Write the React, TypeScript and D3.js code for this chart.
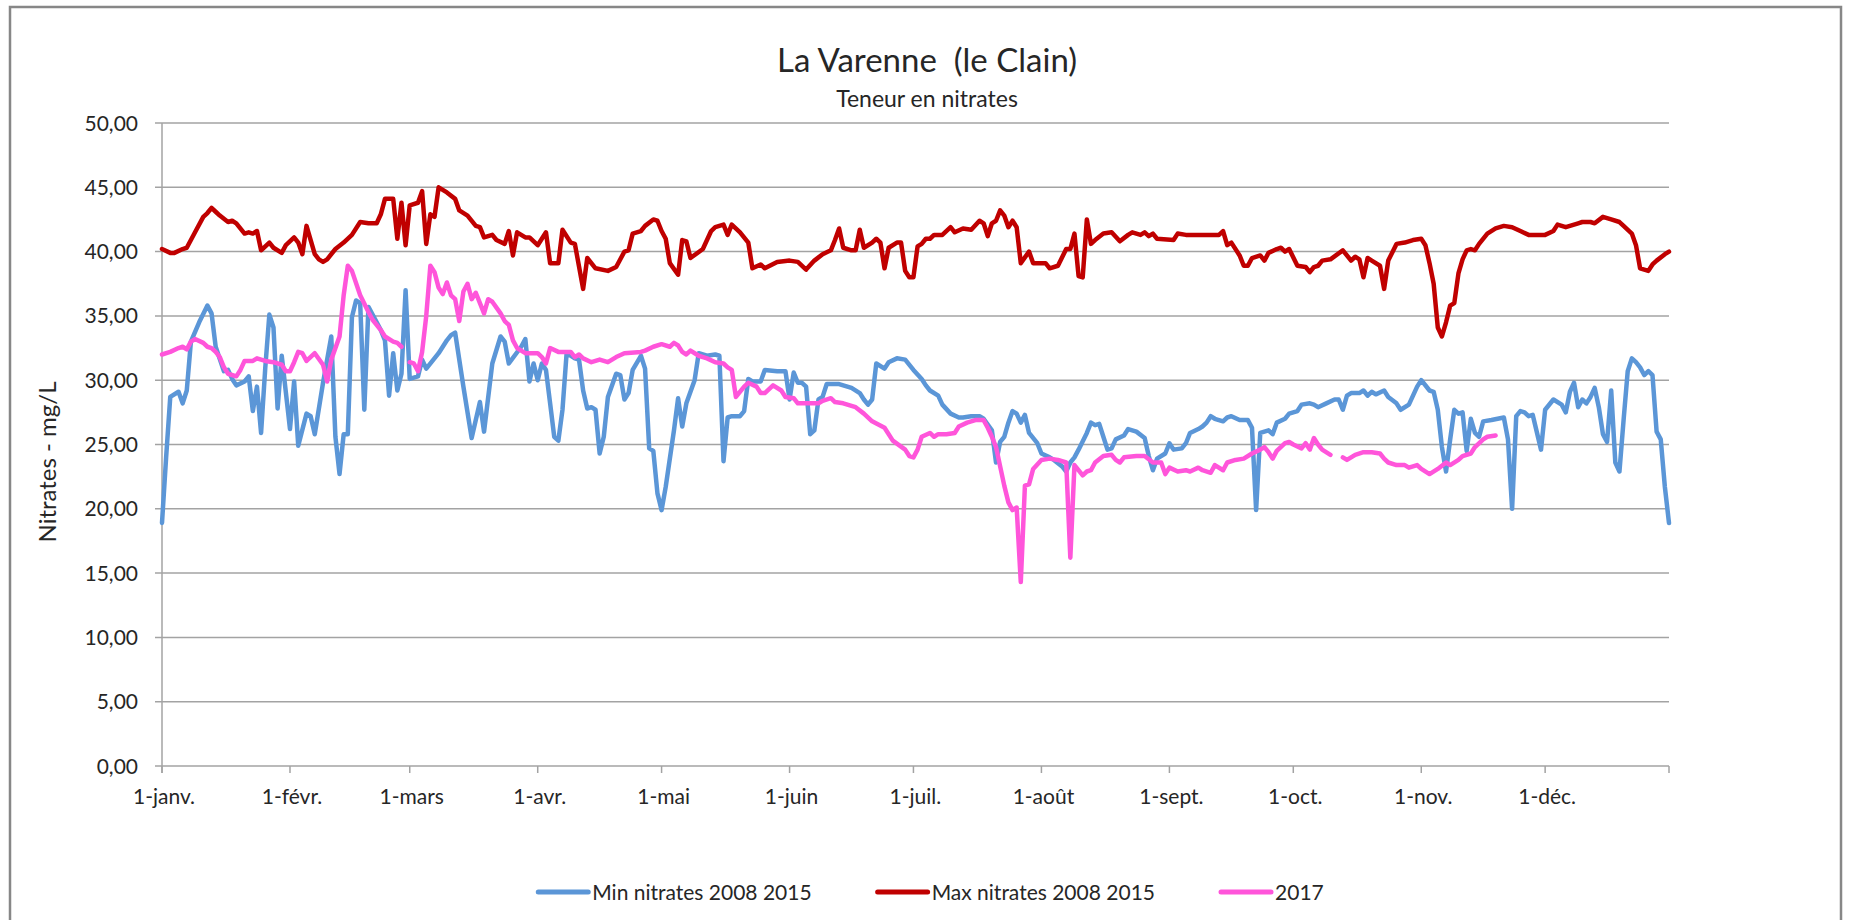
import { useRef, useEffect } from "react";
import * as d3 from "d3";

// day of year (leap-year axis, 0 = 1 janv.), value in mg/L
const minNitrates: [number, number][] = [
  [0, 18.9], [1, 24.0], [2, 28.7], [4, 29.1], [5, 28.2], [6, 29.2], [7, 33.0], [9, 34.5], [11, 35.8], [12, 35.2],
  [13, 32.6], [15, 30.7], [16, 30.8], [17, 30.1], [18, 29.6], [20, 29.9], [21, 30.3], [22, 27.6], [23, 29.5], [24, 25.9],
  [25, 30.9], [26, 35.1], [27, 34.1], [28, 27.8], [29, 31.9], [31, 26.2], [32, 29.9], [33, 24.9], [35, 27.4], [36, 27.2],
  [37, 25.8], [39, 29.8], [41, 33.4], [42, 25.6], [43, 22.7], [44, 25.8], [45, 25.8], [46, 34.9], [47, 36.2], [48, 36.0],
  [49, 27.7], [50, 35.7], [51, 35.1], [53, 33.9], [54, 33.1], [55, 28.8], [56, 32.1], [57, 29.2], [58, 30.5], [59, 37.0],
  [60, 30.1], [62, 30.3], [63, 31.6], [64, 30.9], [67, 32.1], [69, 33.1], [70, 33.5], [71, 33.7], [73, 29.5], [75, 25.5],
  [77, 28.3], [78, 26.0], [80, 31.3], [82, 33.4], [83, 33.0], [84, 31.3], [87, 32.6], [88, 33.2], [89, 29.9], [90, 31.3],
  [91, 30.0], [92, 31.3], [93, 30.8], [94, 28.2], [95, 25.6], [96, 25.3], [97, 27.7], [98, 32.1], [100, 31.7], [101, 31.6],
  [102, 29.2], [103, 27.8], [104, 27.9], [105, 27.7], [106, 24.3], [107, 25.6], [108, 28.7], [110, 30.5], [111, 30.4], [112, 28.5],
  [113, 29.0], [114, 30.8], [116, 31.9], [117, 30.9], [118, 24.7], [119, 24.5], [120, 21.2], [121, 19.9], [122, 21.7], [124, 26.1],
  [125, 28.6], [126, 26.4], [127, 28.2], [129, 30.0], [130, 32.1], [132, 31.9], [134, 32.0], [135, 31.9], [136, 23.7], [137, 27.1],
  [138, 27.2], [140, 27.2], [141, 27.6], [142, 30.1], [143, 29.9], [145, 29.9], [146, 30.8], [149, 30.7], [151, 30.7], [152, 28.5],
  [153, 30.6], [154, 29.8], [155, 29.8], [156, 29.5], [157, 25.8], [158, 26.1], [159, 28.5], [160, 28.7], [161, 29.7], [164, 29.7],
  [167, 29.4], [169, 29.0], [170, 28.5], [171, 28.1], [172, 28.5], [173, 31.3], [175, 30.9], [176, 31.4], [178, 31.7], [180, 31.6],
  [182, 30.8], [184, 30.1], [185, 29.6], [186, 29.2], [188, 28.8], [189, 28.1], [191, 27.4], [193, 27.1], [194, 27.1], [196, 27.2],
  [198, 27.2], [199, 27.0], [201, 26.1], [202, 23.6], [203, 25.2], [204, 25.6], [205, 26.7], [206, 27.6], [207, 27.4], [208, 26.7],
  [209, 27.3], [210, 25.9], [212, 25.1], [213, 24.3], [215, 24.0], [216, 23.8], [218, 23.3], [219, 22.9], [220, 23.6], [221, 24.0],
  [222, 24.6], [224, 25.9], [225, 26.7], [226, 26.5], [227, 26.6], [228, 25.6], [229, 24.6], [230, 24.7], [231, 25.4], [233, 25.7],
  [234, 26.2], [236, 26.0], [238, 25.5], [239, 24.1], [240, 23.0], [241, 23.9], [243, 24.3], [244, 25.1], [245, 24.6], [247, 24.7],
  [248, 25.1], [249, 25.9], [251, 26.2], [252, 26.4], [253, 26.7], [254, 27.2], [255, 27.0], [257, 26.8], [258, 27.1], [259, 27.2],
  [261, 26.9], [262, 26.9], [263, 26.9], [264, 26.3], [265, 19.9], [266, 25.9], [268, 26.1], [269, 25.8], [270, 26.7], [272, 27.0],
  [273, 27.4], [275, 27.6], [276, 28.1], [278, 28.2], [279, 28.1], [280, 27.9], [282, 28.2], [284, 28.5], [285, 28.5], [286, 27.7],
  [287, 28.8], [288, 29.0], [290, 29.0], [291, 29.2], [292, 28.8], [293, 29.1], [294, 28.9], [296, 29.2], [297, 28.7], [299, 28.2],
  [300, 27.7], [302, 28.1], [304, 29.5], [305, 30.0], [307, 29.2], [308, 29.1], [309, 27.7], [310, 24.8], [311, 22.9], [312, 25.4],
  [313, 27.7], [314, 27.4], [315, 27.5], [316, 24.5], [317, 27.0], [318, 25.9], [319, 25.6], [320, 26.8], [322, 26.9], [325, 27.1],
  [326, 25.4], [327, 20.0], [328, 27.2], [329, 27.6], [330, 27.5], [331, 27.2], [332, 27.3], [334, 24.6], [335, 27.7], [337, 28.5],
  [339, 28.1], [340, 27.5], [341, 29.1], [342, 29.8], [343, 27.9], [344, 28.5], [345, 28.2], [346, 28.7], [347, 29.4], [348, 27.9],
  [349, 25.8], [350, 25.2], [351, 29.2], [352, 23.6], [353, 22.9], [354, 26.9], [355, 30.7], [356, 31.7], [357, 31.4], [358, 31.0],
  [359, 30.4], [360, 30.7], [361, 30.4], [362, 26.0], [363, 25.4], [364, 21.7], [365, 18.9],
];

const maxNitrates: [number, number][] = [
  [0, 40.2], [2, 39.9], [3, 39.9], [5, 40.2], [6, 40.3], [8, 41.5], [10, 42.7], [11, 43.0], [12, 43.4], [13, 43.1],
  [14, 42.8], [16, 42.3], [17, 42.4], [18, 42.2], [20, 41.4], [21, 41.5], [22, 41.4], [23, 41.6], [24, 40.1], [26, 40.7],
  [27, 40.3], [29, 39.9], [30, 40.5], [32, 41.1], [33, 40.7], [34, 39.8], [35, 42.0], [37, 39.8], [38, 39.4], [39, 39.2],
  [40, 39.4], [42, 40.2], [44, 40.7], [46, 41.3], [48, 42.3], [50, 42.2], [52, 42.2], [53, 42.9], [54, 44.1], [56, 44.1],
  [57, 41.0], [58, 43.8], [59, 40.5], [60, 43.6], [62, 43.8], [63, 44.7], [64, 40.6], [65, 42.9], [66, 42.7], [67, 45.0],
  [69, 44.6], [71, 44.1], [72, 43.2], [74, 42.8], [76, 42.0], [77, 41.9], [78, 41.1], [80, 41.3], [81, 40.9], [83, 40.6],
  [84, 41.6], [85, 39.7], [86, 41.5], [88, 41.1], [89, 41.1], [91, 40.5], [93, 41.5], [94, 39.1], [96, 39.1], [97, 41.7],
  [99, 40.7], [100, 40.6], [102, 37.1], [103, 39.5], [105, 38.7], [108, 38.5], [110, 38.8], [112, 40.0], [113, 40.1], [114, 41.4],
  [116, 41.6], [117, 42.0], [119, 42.5], [120, 42.4], [121, 41.6], [122, 41.0], [123, 39.1], [125, 38.2], [126, 40.9], [127, 40.8],
  [128, 39.5], [131, 40.2], [133, 41.6], [134, 41.9], [136, 42.1], [137, 41.3], [138, 42.1], [140, 41.5], [142, 40.7], [143, 38.7],
  [145, 39.0], [146, 38.7], [149, 39.2], [152, 39.3], [154, 39.2], [156, 38.6], [158, 39.3], [160, 39.8], [162, 40.1], [163, 40.9],
  [164, 41.8], [165, 40.3], [167, 40.1], [168, 40.1], [169, 41.7], [170, 40.3], [172, 40.7], [173, 41.0], [174, 40.7], [175, 38.7],
  [176, 40.3], [178, 40.7], [179, 40.7], [180, 38.5], [181, 38.0], [182, 38.0], [183, 40.4], [184, 40.6], [185, 41.0], [186, 41.0],
  [187, 41.3], [189, 41.3], [191, 41.9], [192, 41.5], [194, 41.8], [196, 41.7], [198, 42.4], [199, 42.2], [200, 41.2], [201, 42.2],
  [202, 42.4], [203, 43.2], [204, 42.8], [205, 41.9], [206, 42.4], [207, 41.9], [208, 39.1], [210, 40.0], [211, 39.1], [214, 39.1],
  [215, 38.7], [217, 38.9], [219, 40.2], [220, 40.2], [221, 41.4], [222, 38.1], [223, 38.0], [224, 42.5], [225, 40.6], [226, 40.9],
  [228, 41.4], [230, 41.5], [232, 40.8], [234, 41.3], [235, 41.5], [237, 41.3], [238, 41.5], [239, 41.2], [240, 41.4], [241, 41.0],
  [245, 40.9], [246, 41.4], [248, 41.3], [254, 41.3], [256, 41.3], [257, 41.6], [258, 40.5], [259, 40.7], [261, 39.7], [262, 38.9],
  [263, 38.9], [264, 39.5], [266, 39.7], [267, 39.3], [268, 39.9], [270, 40.2], [271, 40.3], [272, 40.0], [273, 40.2], [275, 38.9],
  [277, 38.8], [278, 38.4], [279, 38.8], [280, 38.9], [281, 39.3], [283, 39.4], [286, 40.1], [288, 39.3], [289, 39.6], [290, 39.4],
  [291, 38.0], [292, 39.5], [293, 39.3], [295, 38.9], [296, 37.1], [297, 39.3], [299, 40.6], [301, 40.7], [303, 40.9], [305, 41.0],
  [306, 40.5], [307, 39.1], [308, 37.5], [309, 34.1], [310, 33.4], [311, 34.5], [312, 35.8], [313, 36.0], [314, 38.3], [315, 39.4],
  [316, 40.1], [317, 40.2], [318, 40.1], [319, 40.6], [321, 41.4], [323, 41.8], [325, 42.0], [327, 41.9], [329, 41.6], [331, 41.3],
  [335, 41.3], [337, 41.6], [338, 42.1], [340, 41.9], [343, 42.2], [344, 42.3], [346, 42.3], [347, 42.2], [349, 42.7], [351, 42.5],
  [353, 42.3], [354, 42.0], [356, 41.4], [357, 40.5], [358, 38.7], [360, 38.5], [361, 39.0], [362, 39.3], [364, 39.8], [365, 40.0],
];

// null = no measurement (29 févr. does not exist in 2017, mid-October gap)
const nitrates2017: [number, number | null][] = [
  [0, 32.0], [2, 32.2], [4, 32.5], [5, 32.6], [6, 32.4], [7, 33.0], [8, 33.2], [10, 32.9], [11, 32.6], [12, 32.5],
  [13, 32.2], [14, 31.8], [15, 31.0], [16, 30.5], [18, 30.3], [19, 30.8], [20, 31.5], [22, 31.5], [23, 31.7], [25, 31.5],
  [27, 31.4], [29, 31.2], [30, 30.7], [31, 30.7], [32, 31.4], [33, 32.2], [34, 32.1], [35, 31.5], [37, 32.1], [39, 31.2],
  [40, 29.9], [41, 31.6], [43, 33.4], [44, 36.6], [45, 38.9], [46, 38.5], [48, 36.6], [50, 35.3], [51, 34.7], [53, 33.9],
  [54, 33.4], [56, 33.0], [57, 32.9], [58, 32.6], [59, null], [60, 31.4], [61, 31.3], [62, 30.7], [63, 32.2], [64, 35.0],
  [65, 38.9], [66, 38.4], [67, 37.2], [68, 36.7], [69, 37.6], [70, 36.6], [71, 36.3], [72, 34.6], [73, 36.9], [74, 37.5],
  [75, 36.3], [76, 36.8], [78, 35.2], [79, 36.3], [80, 36.1], [82, 35.2], [83, 34.6], [84, 34.3], [85, 33.1], [86, 32.5],
  [88, 32.1], [90, 32.1], [91, 32.1], [92, 31.8], [93, 31.3], [94, 32.5], [96, 32.2], [97, 32.2], [99, 32.2], [100, 31.8],
  [101, 32.0], [102, 31.7], [104, 31.4], [106, 31.6], [108, 31.4], [110, 31.8], [112, 32.1], [116, 32.2], [117, 32.3], [119, 32.6],
  [121, 32.8], [123, 32.6], [124, 32.9], [125, 32.7], [126, 32.2], [127, 32.0], [128, 32.3], [130, 31.9], [132, 31.7], [134, 31.4],
  [136, 31.3], [137, 31.0], [138, 30.8], [139, 28.7], [141, 29.5], [142, 29.8], [144, 29.5], [145, 29.0], [146, 29.0], [148, 29.6],
  [150, 29.2], [151, 28.7], [153, 28.6], [154, 28.2], [156, 28.2], [159, 28.2], [160, 28.4], [162, 28.6], [163, 28.3], [165, 28.2],
  [168, 27.9], [170, 27.4], [172, 26.8], [175, 26.3], [177, 25.3], [180, 24.6], [181, 24.1], [182, 24.0], [183, 24.6], [184, 25.6],
  [186, 25.9], [187, 25.6], [188, 25.8], [190, 25.8], [192, 25.9], [193, 26.4], [195, 26.7], [197, 26.9], [199, 26.9], [200, 26.3],
  [201, 25.6], [202, 24.8], [203, 23.3], [204, 21.8], [205, 20.5], [206, 19.9], [207, 20.1], [208, 14.3], [209, 21.8], [210, 21.9],
  [211, 23.1], [213, 23.8], [215, 23.9], [217, 23.8], [219, 23.6], [220, 16.2], [221, 23.4], [223, 22.6], [224, 22.9], [225, 23.0],
  [226, 23.6], [228, 24.1], [230, 24.2], [231, 23.8], [232, 23.6], [233, 24.0], [236, 24.1], [238, 24.1], [240, 23.6], [242, 23.6],
  [243, 22.7], [244, 23.2], [246, 22.9], [248, 23.0], [249, 22.9], [251, 23.2], [252, 23.0], [254, 22.8], [255, 23.4], [257, 23.0],
  [258, 23.6], [260, 23.8], [262, 23.9], [264, 24.3], [266, 24.6], [267, 24.8], [268, 24.4], [269, 23.9], [270, 24.5], [272, 25.1],
  [273, 25.2], [274, 25.0], [276, 24.7], [277, 25.1], [278, 24.6], [279, 25.5], [280, 25.0], [281, 24.6], [283, 24.2], [284, null],
  [286, 24.0], [287, 23.8], [289, 24.2], [291, 24.4], [293, 24.4], [295, 24.3], [296, 23.9], [297, 23.6], [299, 23.4], [301, 23.4],
  [302, 23.2], [304, 23.4], [305, 23.1], [307, 22.7], [309, 23.1], [311, 23.6], [312, 23.4], [314, 23.8], [315, 24.1], [317, 24.3],
  [318, 24.8], [320, 25.4], [321, 25.6], [323, 25.7],
];

const monthLabels = ["1-janv.", "1-févr.", "1-mars", "1-avr.", "1-mai", "1-juin", "1-juil.", "1-août", "1-sept.", "1-oct.", "1-nov.", "1-déc."];
const yTicks = [0, 5, 10, 15, 20, 25, 30, 35, 40, 45, 50];

const series = [
  { name: "Min nitrates 2008 2015", color: "#5b96d7", data: minNitrates },
  { name: "Max nitrates 2008 2015", color: "#c00000", data: maxNitrates },
  { name: "2017", color: "#ff55da", data: nitrates2017 },
];

const FONT = "Lato, 'Open Sans', sans-serif";
const TEXT = "#262626";
const GRID = "#a3a3a3";

export default function App() {
  const svgRef = useRef<SVGSVGElement>(null);

  useEffect(() => {
    if (!svgRef.current) return;
    const svg = d3.select(svgRef.current);
    svg.selectAll("*").remove();

    const width = 1852;
    const height = 920;
    const left = 162;
    const right = 1669;
    const top = 123;
    const bottom = 766;

    const year0 = new Date(2016, 0, 1);
    const toDate = (d: number) => d3.timeDay.offset(year0, d);

    const x = d3.scaleTime().domain([year0, new Date(2016, 11, 31)]).range([left, right]);
    const y = d3.scaleLinear().domain([0, 50]).range([bottom, top]);

    const fr = d3.formatLocale({ decimal: ",", thousands: " ", grouping: [3], currency: ["", " €"] });
    const fmt = fr.format(".2f");

    svg.attr("width", width).attr("height", height);

    svg.append("rect").attr("width", width).attr("height", height).attr("fill", "#fff");

    // chart frame
    svg.append("rect")
      .attr("x", 10).attr("y", 7)
      .attr("width", 1831).attr("height", 1000)
      .attr("fill", "none")
      .attr("stroke", "#878787")
      .attr("stroke-width", 2.5);

    // gridlines
    svg.append("g")
      .selectAll("line")
      .data(yTicks)
      .join("line")
      .attr("x1", left - 7)
      .attr("x2", right)
      .attr("y1", (d) => y(d))
      .attr("y2", (d) => y(d))
      .attr("stroke", GRID)
      .attr("stroke-width", 1.5);

    // y axis line
    svg.append("line")
      .attr("x1", left).attr("x2", left)
      .attr("y1", top).attr("y2", bottom + 7)
      .attr("stroke", GRID).attr("stroke-width", 1.5);

    // x ticks
    const monthStarts = d3.timeMonth.range(year0, new Date(2017, 0, 1));
    const tickDates = [...monthStarts, new Date(2016, 11, 31)];
    svg.append("g")
      .selectAll("line")
      .data(tickDates)
      .join("line")
      .attr("x1", (d) => x(d))
      .attr("x2", (d) => x(d))
      .attr("y1", bottom)
      .attr("y2", bottom + 7)
      .attr("stroke", GRID)
      .attr("stroke-width", 1.5);

    svg.append("g")
      .selectAll("text")
      .data(monthStarts)
      .join("text")
      .attr("x", (d) => x(d) + 2)
      .attr("y", bottom + 38)
      .attr("text-anchor", "middle")
      .attr("font-family", FONT)
      .attr("font-size", 21)
      .attr("fill", TEXT)
      .text((d, i) => monthLabels[i]);

    svg.append("g")
      .selectAll("text")
      .data(yTicks)
      .join("text")
      .attr("x", 138)
      .attr("y", (d) => y(d) + 7.5)
      .attr("text-anchor", "end")
      .attr("font-family", FONT)
      .attr("font-size", 21)
      .attr("fill", TEXT)
      .text((d) => fmt(d));

    // axis title
    svg.append("text")
      .attr("transform", "translate(56, 462) rotate(-90)")
      .attr("text-anchor", "middle")
      .attr("font-family", FONT)
      .attr("font-size", 24)
      .attr("fill", TEXT)
      .text("Nitrates - mg/L");

    // titles
    svg.append("text")
      .attr("x", 927).attr("y", 72)
      .attr("text-anchor", "middle")
      .attr("font-family", FONT)
      .attr("font-size", 33)
      .attr("fill", TEXT)
      .style("white-space", "pre")
      .text("La Varenne  (le Clain)");

    svg.append("text")
      .attr("x", 927).attr("y", 107)
      .attr("text-anchor", "middle")
      .attr("font-family", FONT)
      .attr("font-size", 23)
      .attr("fill", TEXT)
      .text("Teneur en nitrates");

    // series
    const line = d3.line<[number, number | null]>()
      .defined((d) => d[1] !== null)
      .x((d) => x(toDate(d[0])))
      .y((d) => y(d[1] as number));

    series.forEach((s) => {
      svg.append("path")
        .datum(s.data as [number, number | null][])
        .attr("fill", "none")
        .attr("stroke", s.color)
        .attr("stroke-width", 4.5)
        .attr("stroke-linejoin", "round")
        .attr("stroke-linecap", "round")
        .attr("d", line);
    });

    // legend
    const legend = svg.append("g");
    const legendY = 892;
    const items = series.map((s) => {
      const g = legend.append("g");
      g.append("line")
        .attr("x1", 0).attr("x2", 50)
        .attr("y1", legendY).attr("y2", legendY)
        .attr("stroke", s.color)
        .attr("stroke-width", 5)
        .attr("stroke-linecap", "round");
      const t = g.append("text")
        .attr("x", 54)
        .attr("y", legendY + 7.5)
        .attr("font-family", FONT)
        .attr("font-size", 21)
        .attr("fill", TEXT)
        .text(s.name);
      const w = (t.node() as SVGTextElement).getComputedTextLength();
      return { g, w: 54 + w };
    });
    const gap = 66;
    const total = d3.sum(items, (d) => d.w) + gap * (items.length - 1);
    let cx = 931 - total / 2;
    items.forEach((it) => {
      it.g.attr("transform", `translate(${cx},0)`);
      cx += it.w + gap;
    });
  }, []);

  return <svg ref={svgRef} style={{ position: "absolute", left: 0, top: 0, display: "block" }} />;
}
